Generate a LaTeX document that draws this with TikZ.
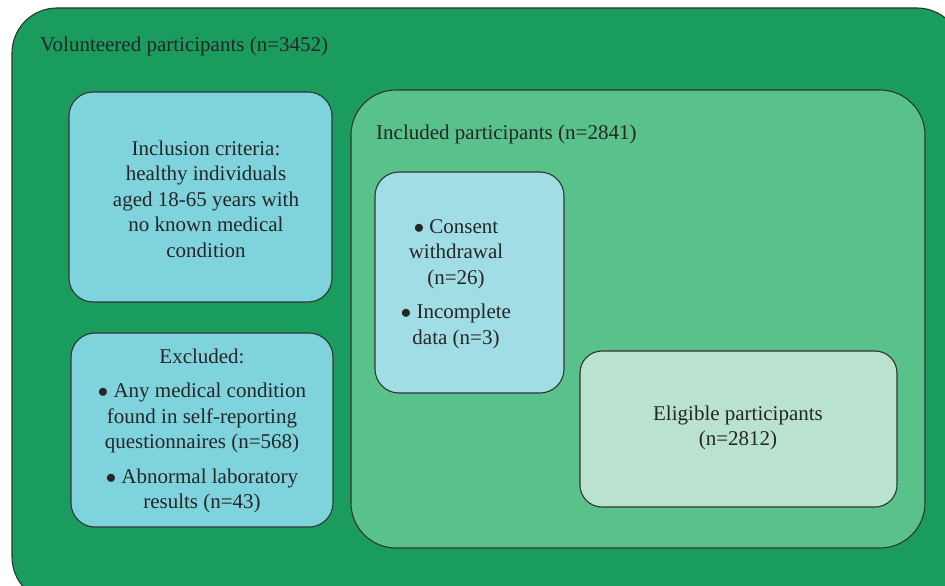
\documentclass[tikz,border=0pt]{standalone}
\usepackage{fontspec}
\setmainfont{Liberation Serif}
\begin{document}
\begin{tikzpicture}[x=1pt,y=-1pt,
  box/.style={draw=black!80, line width=1.1pt, inner sep=0pt},
  txt/.style={text=black!85, font=\fontsize{21}{25.5}\selectfont, align=center, inner sep=0pt},
  ltxt/.style={text=black!85, font=\fontsize{21}{25.5}\selectfont, anchor=west, inner sep=0pt}]
\definecolor{darkg}{RGB}{27,156,95}
\definecolor{midg}{RGB}{89,193,138}
\definecolor{cyanb}{RGB}{127,211,220}
\definecolor{lcyan}{RGB}{161,221,228}
\definecolor{paleg}{RGB}{185,226,207}
\useasboundingbox (0,0) rectangle (945,586);
\fill[white] (0,0) rectangle (945,586);
\node[box, fill=darkg, rounded corners=45pt, minimum width=950pt, minimum height=594pt] (outer) at (487,305) {};
\node[ltxt] (vol) at (40,46) {Volunteered participants (n=3452)};
\node[box, fill=cyanb, rounded corners=24pt, minimum width=263pt, minimum height=210pt] (incl) at (200.5,197) {};
\node[txt] (incltxt) at (206,199) {Inclusion criteria:\\healthy individuals\\aged 18-65 years with\\no known medical\\condition};
\node[box, fill=cyanb, rounded corners=24pt, minimum width=262pt, minimum height=194pt] (excl) at (202,430) {};
\node[txt] (excltxt) at (202,431) {Excluded:\\[9pt]$\bullet$ Any medical condition\\found in self-reporting\\questionnaires (n=568)\\[9pt]$\bullet$ Abnormal laboratory\\results (n=43)};
\node[box, fill=midg, rounded corners=45pt, minimum width=574pt, minimum height=458pt] (inc) at (638,319) {};
\node[ltxt] (inctxt) at (376,134) {Included participants (n=2841)};
\node[box, fill=lcyan, rounded corners=24pt, minimum width=189pt, minimum height=221pt] (cons) at (469.5,282.5) {};
\node[txt] (constxt) at (456,284) {$\bullet$ Consent\\withdrawal\\(n=26)\\[9pt]$\bullet$ Incomplete\\data (n=3)};
\node[box, fill=paleg, rounded corners=22pt, minimum width=317pt, minimum height=156pt] (elig) at (738.5,429) {};
\node[txt] (eligtxt) at (738,428) {Eligible participants\\(n=2812)};
\end{tikzpicture}
\end{document}
